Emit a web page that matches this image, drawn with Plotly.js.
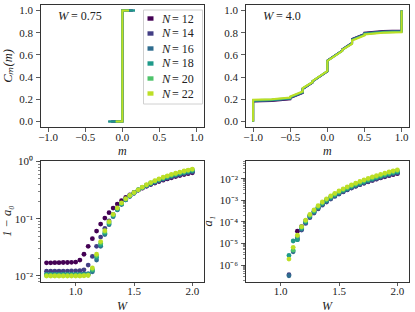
<!DOCTYPE html>
<html><head><meta charset="utf-8">
<script src="https://cdn.plot.ly/plotly-3.0.1.min.js"></script>
<style>html,body{margin:0;padding:0;background:#fff}#chart{width:415px;height:312px}</style>
</head><body><div id="chart"></div>
<script>
// ---------------- data ----------------
const Ns = [12, 14, 16, 18, 20, 22];
const legendNums = ['= 12', '= 14', '= 16', '= 18', '= 20', '= 22'];

// W = 0.75 panel: step from 0 to 1 at m = 0
const m075_lo = [-0.15, -0.15, -0.19, -0.19, -0.09, -0.09];
const m075_hi = [0.14, 0.14, 0.17, 0.17, 0.09, 0.09];
const C075 = [0, 0, 1, 1];

// W = 4.0 panel: cumulative C_m(m)
const m4 = [-1, -1, -0.75, -0.5, -0.5, -0.333, -0.333, -0.2, -0.2, 0, 0, 0.2, 0.2, 0.333, 0.333, 0.5, 0.5, 0.75, 1, 1];
const C4_N12 = [0, 0.180, 0.185, 0.200, 0.210, 0.255, 0.290, 0.350, 0.360, 0.450, 0.550, 0.640, 0.650, 0.710, 0.745, 0.790, 0.800, 0.815, 0.820, 1];
const C4_N14 = [0, 0.183, 0.188, 0.203, 0.213, 0.258, 0.292, 0.351, 0.361, 0.451, 0.549, 0.639, 0.649, 0.708, 0.742, 0.787, 0.797, 0.812, 0.817, 1];
const C4_N16 = [0, 0.186, 0.191, 0.206, 0.216, 0.261, 0.294, 0.352, 0.362, 0.452, 0.548, 0.638, 0.648, 0.706, 0.739, 0.784, 0.794, 0.809, 0.814, 1];
const C4_N18 = [0, 0.189, 0.194, 0.209, 0.219, 0.264, 0.296, 0.353, 0.363, 0.453, 0.547, 0.637, 0.647, 0.704, 0.736, 0.781, 0.791, 0.806, 0.811, 1];
const C4_N20 = [0, 0.192, 0.197, 0.212, 0.222, 0.267, 0.298, 0.354, 0.364, 0.454, 0.546, 0.636, 0.646, 0.702, 0.733, 0.778, 0.788, 0.803, 0.808, 1];
const C4_N22 = [0, 0.195, 0.200, 0.215, 0.225, 0.270, 0.300, 0.355, 0.365, 0.455, 0.545, 0.635, 0.645, 0.700, 0.730, 0.775, 0.785, 0.800, 0.805, 1];

// disorder strength W
const W = [0.75, 0.786, 0.821, 0.857, 0.893, 0.929, 0.964, 1.0, 1.036, 1.071, 1.107, 1.143, 1.179, 1.214, 1.25, 1.286, 1.321, 1.357, 1.393, 1.429, 1.464, 1.5, 1.536, 1.571, 1.607, 1.643, 1.679, 1.714, 1.75, 1.786, 1.821, 1.857, 1.893, 1.929, 1.964, 2.0];

// 1 - a0
const oma0_N12 = [0.0170, 0.0170, 0.0171, 0.0171, 0.0172, 0.0172, 0.0173, 0.0175, 0.0190, 0.024, 0.033, 0.045, 0.061, 0.081, 0.103, 0.128, 0.154, 0.181, 0.208, 0.236, 0.263, 0.290, 0.317, 0.344, 0.371, 0.397, 0.423, 0.449, 0.474, 0.499, 0.523, 0.547, 0.570, 0.593, 0.615, 0.637];
const oma0_N14 = [0.0121, 0.0121, 0.0122, 0.0122, 0.0122, 0.0122, 0.0123, 0.0123, 0.0124, 0.0128, 0.0155, 0.022, 0.033, 0.048, 0.068, 0.092, 0.120, 0.150, 0.182, 0.215, 0.248, 0.280, 0.318, 0.347, 0.376, 0.404, 0.431, 0.459, 0.486, 0.512, 0.538, 0.563, 0.587, 0.612, 0.635, 0.658];
const oma0_N16 = [0.0108, 0.0108, 0.0108, 0.0108, 0.0108, 0.0108, 0.0108, 0.0108, 0.0108, 0.0109, 0.0110, 0.0118, 0.019, 0.033, 0.053, 0.079, 0.109, 0.143, 0.178, 0.214, 0.248, 0.282, 0.319, 0.350, 0.380, 0.410, 0.440, 0.469, 0.498, 0.525, 0.553, 0.579, 0.605, 0.630, 0.654, 0.678];
const oma0_N18 = [0.0105, 0.0105, 0.0105, 0.0105, 0.0105, 0.0105, 0.0105, 0.0105, 0.0105, 0.0106, 0.0107, 0.0125, 0.021, 0.035, 0.056, 0.082, 0.113, 0.147, 0.182, 0.218, 0.251, 0.284, 0.320, 0.352, 0.385, 0.417, 0.448, 0.480, 0.509, 0.539, 0.567, 0.595, 0.622, 0.649, 0.674, 0.699];
const oma0_N20 = [0.0102, 0.0102, 0.0102, 0.0102, 0.0102, 0.0102, 0.0102, 0.0102, 0.0102, 0.0103, 0.0104, 0.0130, 0.0225, 0.0375, 0.059, 0.086, 0.117, 0.151, 0.186, 0.221, 0.254, 0.286, 0.321, 0.355, 0.389, 0.423, 0.457, 0.490, 0.521, 0.552, 0.582, 0.611, 0.640, 0.667, 0.693, 0.719];
const oma0_N22 = [0.0100, 0.0100, 0.0100, 0.0100, 0.0100, 0.0100, 0.0100, 0.0100, 0.0100, 0.0101, 0.0102, 0.0138, 0.024, 0.040, 0.062, 0.089, 0.120, 0.155, 0.190, 0.225, 0.257, 0.288, 0.322, 0.358, 0.394, 0.430, 0.465, 0.500, 0.533, 0.565, 0.597, 0.627, 0.657, 0.686, 0.713, 0.740];

// a1 (null where not shown)
const a1_N12 = [null, null, null, null, null, null, null, null, null, null, null, 3.7e-5, 6.0e-5, 1.1e-4, 1.9e-4, 3.0e-4, 4.6e-4, 6.7e-4, 9.3e-4, 1.25e-3, 1.63e-3, 2.07e-3, 2.58e-3, 3.15e-3, 3.8e-3, 4.5e-3, 5.3e-3, 6.2e-3, 7.2e-3, 8.3e-3, 9.5e-3, 1.08e-2, 1.22e-2, 1.37e-2, 1.53e-2, 1.7e-2];
const a1_N14 = [null, null, null, null, null, null, null, null, null, 3.6e-7, null, 1.8e-5, 4.2e-5, 8.5e-5, 1.56e-4, 2.55e-4, 3.95e-4, 5.9e-4, 8.3e-4, 1.13e-3, 1.5e-3, 1.93e-3, 2.43e-3, 3.0e-3, 3.65e-3, 4.4e-3, 5.25e-3, 6.2e-3, 7.25e-3, 8.45e-3, 9.8e-3, 1.12e-2, 1.28e-2, 1.45e-2, 1.63e-2, 1.8e-2];
const a1_N16 = [null, null, null, null, null, null, null, null, null, 3.2e-7, 4.1e-6, 1.5e-5, 4.5e-5, 9.2e-5, 1.7e-4, 2.75e-4, 4.3e-4, 6.4e-4, 9.0e-4, 1.22e-3, 1.62e-3, 2.08e-3, 2.62e-3, 3.24e-3, 3.95e-3, 4.75e-3, 5.65e-3, 6.65e-3, 7.8e-3, 9.1e-3, 1.05e-2, 1.2e-2, 1.37e-2, 1.55e-2, 1.74e-2, 1.94e-2];
const a1_N18 = [null, null, null, null, null, null, null, null, null, 2.8e-6, 1.3e-5, 1.5e-5, 5.0e-5, 1.0e-4, 1.85e-4, 3.0e-4, 4.7e-4, 7.0e-4, 9.8e-4, 1.33e-3, 1.76e-3, 2.26e-3, 2.84e-3, 3.5e-3, 4.3e-3, 5.15e-3, 6.1e-3, 7.2e-3, 8.5e-3, 9.9e-3, 1.14e-2, 1.3e-2, 1.48e-2, 1.67e-2, 1.88e-2, 2.1e-2];
const a1_N20 = [null, null, null, null, null, null, null, null, null, null, 4.9e-6, 2.2e-5, 5.6e-5, 1.1e-4, 2.0e-4, 3.3e-4, 5.1e-4, 7.6e-4, 1.07e-3, 1.45e-3, 1.92e-3, 2.46e-3, 3.1e-3, 3.82e-3, 4.68e-3, 5.6e-3, 6.7e-3, 7.9e-3, 9.2e-3, 1.08e-2, 1.24e-2, 1.42e-2, 1.62e-2, 1.83e-2, 2.05e-2, 2.3e-2];
const a1_N22 = [null, null, null, null, null, null, null, null, null, 1.9e-6, 6.6e-6, 2.4e-5, 6.0e-5, 1.2e-4, 2.2e-4, 3.6e-4, 5.6e-4, 8.3e-4, 1.17e-3, 1.58e-3, 2.09e-3, 2.69e-3, 3.39e-3, 4.17e-3, 5.13e-3, 6.17e-3, 7.41e-3, 8.71e-3, 1.02e-2, 1.2e-2, 1.38e-2, 1.58e-2, 1.82e-2, 2.04e-2, 2.29e-2, 2.57e-2];

const logTicks3 = [0.01, 0.1, 1];
const logText3 = ['10⁻²', '10⁻¹', '10⁰'];
const logTicks4 = [1e-6, 1e-5, 1e-4, 1e-3, 1e-2];
const logText4 = ['10⁻⁶', '10⁻⁵', '10⁻⁴', '10⁻³', '10⁻²'];

// ---------------- styling ----------------
const colors = ['#440154', '#433e85', '#2f6c8e', '#1f9a8a', '#4ec36b', '#bddf26'];
const C4 = [C4_N12, C4_N14, C4_N16, C4_N18, C4_N20, C4_N22];
const OMA0 = [oma0_N12, oma0_N14, oma0_N16, oma0_N18, oma0_N20, oma0_N22];
const A1 = [a1_N12, a1_N14, a1_N16, a1_N18, a1_N20, a1_N22];

const PW = 415, PH = 312;
const px = v => v / PW;
const py = v => 1 - v / PH;
const FONT = 'Liberation Serif';
const TXT = '#222';

const traces = [];
Ns.forEach((n, i) => {
  traces.push({x: [m075_lo[i], 0, 0, m075_hi[i]], y: C075, mode: 'lines', xaxis: 'x', yaxis: 'y',
    line: {color: colors[i], width: 2}, showlegend: false, hoverinfo: 'skip'});
});
Ns.forEach((n, i) => {
  traces.push({x: m4, y: C4[i], mode: 'lines', xaxis: 'x2', yaxis: 'y2',
    line: {color: colors[i], width: 2}, showlegend: false, hoverinfo: 'skip'});
});
Ns.forEach((n, i) => {
  traces.push({x: W, y: OMA0[i], mode: 'markers', xaxis: 'x3', yaxis: 'y3',
    marker: {color: colors[i], size: 4.8, symbol: 'circle', line: {width: 0}}, showlegend: false});
});
Ns.forEach((n, i) => {
  traces.push({x: W, y: A1[i], mode: 'markers', xaxis: 'x4', yaxis: 'y4',
    marker: {color: colors[i], size: 4.8, symbol: 'circle', line: {width: 0}}, showlegend: false});
});

function ax(o) {
  return Object.assign({
    showline: true, mirror: true, linecolor: '#333', linewidth: 1,
    ticks: 'outside', ticklen: 3.5, tickwidth: 0.8, tickcolor: '#333',
    showgrid: false, zeroline: false,
    tickfont: {family: FONT, size: 11, color: TXT}
  }, o);
}

const xTop = {range: [-1.1, 1.1], tickvals: [-1, -0.5, 0, 0.5, 1], tickformat: '.1f', ticklabelstandoff: -4};
const yTop = {range: [-0.05, 1.05], tickvals: [0, 0.2, 0.4, 0.6, 0.8, 1.0], tickformat: '.1f', ticklabelstandoff: 1};
const xBot = {range: [0.7, 2.1], tickvals: [1.0, 1.5, 2.0], tickformat: '.1f', ticklabelstandoff: -4};
const minorLog = {ticks: 'outside', ticklen: 2, tickwidth: 0.6, tickcolor: '#333', dtick: 'D1', showgrid: false};
const ytitleFont = {family: FONT, size: 12.5, color: TXT, style: 'italic'};

const layout = {
  width: PW, height: PH, margin: {l: 0, r: 0, t: 0, b: 0},
  paper_bgcolor: '#fff', plot_bgcolor: '#fff', showlegend: false,
  font: {family: FONT, color: TXT},
  xaxis: ax(Object.assign({domain: [px(40.7), px(204)], anchor: 'y'}, xTop)),
  yaxis: ax(Object.assign({domain: [py(127), py(5)], anchor: 'x'}, yTop,
    {title: {text: 'Cₘ(m)', standoff: 3, font: ytitleFont}})),
  xaxis2: ax(Object.assign({domain: [px(245.7), px(409)], anchor: 'y2'}, xTop)),
  yaxis2: ax(Object.assign({domain: [py(127), py(5)], anchor: 'x2'}, yTop)),
  xaxis3: ax(Object.assign({domain: [px(40.7), px(204)], anchor: 'y3'}, xBot)),
  yaxis3: ax({domain: [py(281.7), py(160.5)], anchor: 'x3', type: 'log', range: [-2.1, 0.02],
    tickvals: logTicks3, ticktext: logText3, minor: minorLog, ticklabelstandoff: 1,
    title: {text: '1 − a₀', standoff: 3, font: ytitleFont}}),
  xaxis4: ax(Object.assign({domain: [px(245.7), px(409)], anchor: 'y4'}, xBot)),
  yaxis4: ax({domain: [py(281.7), py(160.5)], anchor: 'x4', type: 'log', range: [-6.77, -1.16],
    tickvals: logTicks4, ticktext: logText4, minor: minorLog, ticklabelstandoff: 1,
    title: {text: 'a₁', standoff: 3, font: ytitleFont}}),
  annotations: [],
  shapes: [
    {type: 'rect', xref: 'paper', yref: 'paper', x0: px(143.5), x1: px(202.5), y0: py(104), y1: py(10),
      line: {color: '#d0d0d0', width: 1}, fillcolor: 'rgba(255,255,255,0.85)', layer: 'above'}
  ]
};

const italic = {family: FONT, size: 12.5, color: TXT, style: 'italic'};
const upright = {family: FONT, size: 12, color: TXT};
function note(x, y, text, font, anchor) {
  layout.annotations.push({xref: 'paper', yref: 'paper', x: px(x), y: py(y), xanchor: anchor || 'left', yanchor: 'middle',
    showarrow: false, borderpad: 0, text: text, font: font});
}
const xtitle = {family: FONT, size: 12, color: TXT, style: 'italic'};
// x-axis titles
note(122.3, 151, 'm', xtitle, 'center');
note(327.3, 151, 'm', xtitle, 'center');
note(122.3, 305.5, 'W', xtitle, 'center');
note(327.3, 305.5, 'W', xtitle, 'center');
// panel labels
note(56.5, 15.7, 'W', italic);
note(69.5, 15.7, '= 0.75', upright);
note(261.5, 15.7, 'W', italic);
note(274.5, 15.7, '= 4.0', upright);

// legend (swatches + text inside the top-left panel)
Ns.forEach((n, i) => {
  const yc = 18.5 + i * 15;
  layout.shapes.push({type: 'rect', xref: 'paper', yref: 'paper', x0: px(147.5), x1: px(153.5), y0: py(yc + 2.2), y1: py(yc - 2.2),
    line: {width: 0}, fillcolor: colors[i], layer: 'above'});
  note(159.5, yc, 'N', italic);
  note(170.5, yc, legendNums[i], upright);
});

Plotly.newPlot('chart', traces, layout, {staticPlot: true, displayModeBar: false});
</script>
</body></html>
